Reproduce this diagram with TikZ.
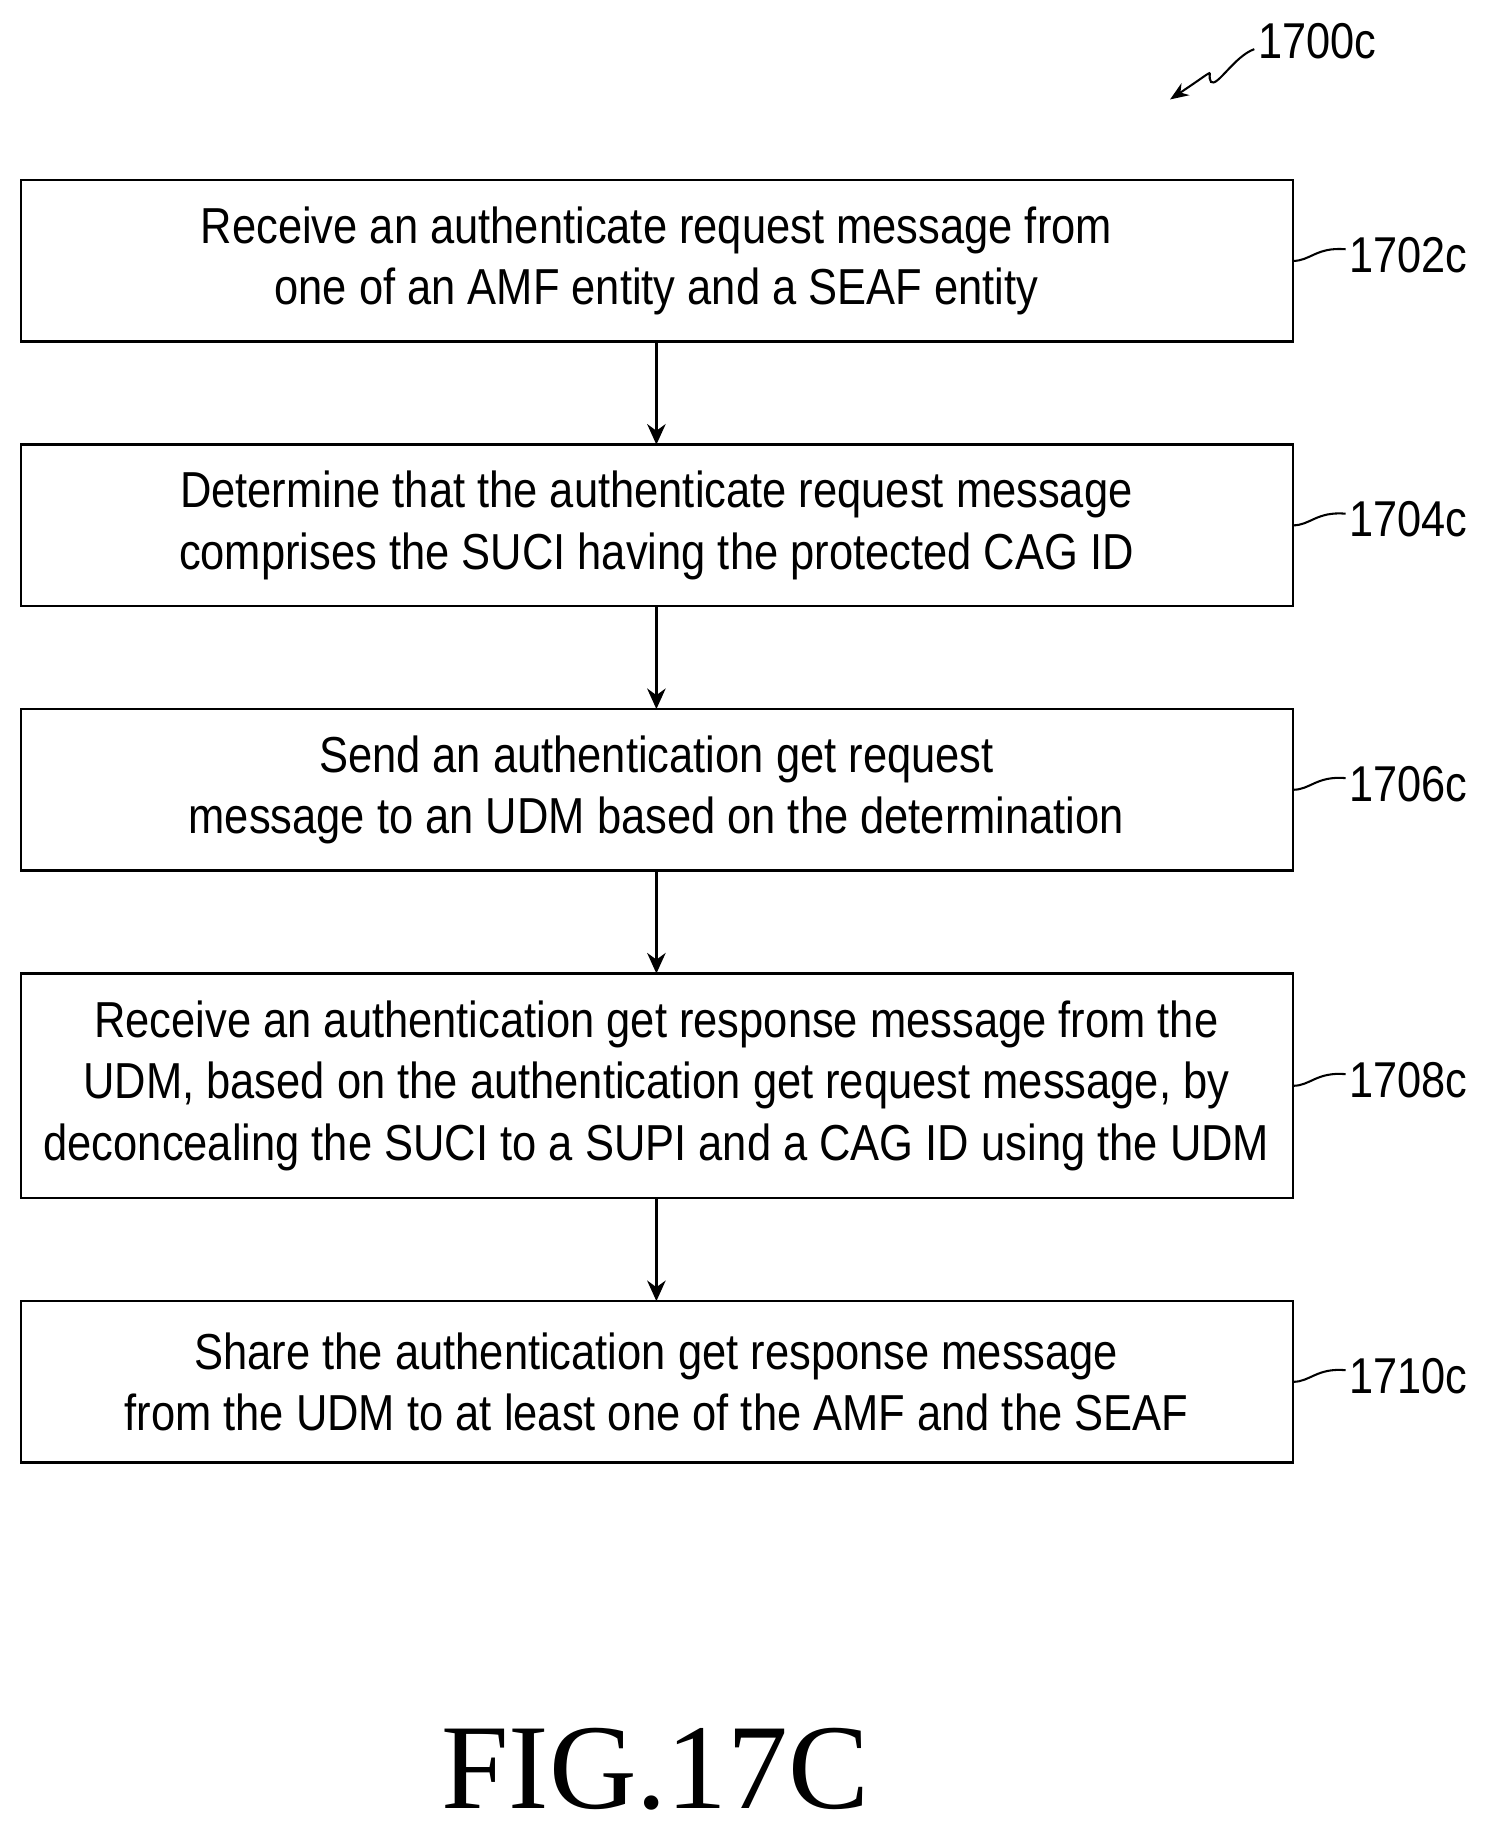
\documentclass[tikz,border=0pt]{standalone}
\usepackage{fontspec}
\setmainfont{Liberation Sans}[FakeStretch=0.86]
\newfontfamily\figfont{Liberation Serif}
\usetikzlibrary{arrows.meta}
\begin{document}
\begin{tikzpicture}[x=0.02cm,y=-0.02cm,
 box/.style={draw,line width=1.2pt,inner sep=0pt,font=\fontsize{24.6}{30}\selectfont,align=center},
 arr/.style={line width=1.2pt,-{Stealth[length=10pt,width=9pt]}},
 lab/.style={font=\fontsize{24.5}{26}\selectfont,anchor=west,inner sep=0pt}]
\useasboundingbox (0,0) rectangle (1276,1576);
\def\bx#1#2#3#4#5{%
 \draw[line width=1.2pt] (18,#2) rectangle (1105,#3);
 \node[box,draw=none] (#1) at (561,{(#2+#3)/2}) {#4};
 \coordinate (#1t) at (561,#2); \coordinate (#1b) at (561,#3);
 \node[lab] (#1l) at (1153,{(#2+#3)/2-5}) {#5};
 \draw[line width=1pt] (1105,{(#2+#3)/2}) .. controls (1120,{(#2+#3)/2}) and (1125,{(#2+#3)/2-12}) .. (1150,{(#2+#3)/2-10});}
\bx{a}{154}{292}{Receive an authenticate request message from\\one of an AMF entity and a SEAF entity}{1702c}
\bx{b}{380}{518}{Determine that the authenticate request message\\comprises the SUCI having the protected CAG ID}{1704c}
\bx{c}{606}{744}{Send an authentication get request\\message to an UDM based on the determination}{1706c}
\bx{d}{832}{1024}{Receive an authentication get response message from the\\UDM, based on the authentication get request message, by\\deconcealing the SUCI to a SUPI and a CAG ID using the UDM}{1708c}
\bx{e}{1112}{1250}{Share the authentication get response message\\from the UDM to at least one of the AMF and the SEAF}{1710c}
\draw[arr] (ab) -- (bt);
\draw[arr] (bb) -- (ct);
\draw[arr] (cb) -- (dt);
\draw[arr] (db) -- (et);
\node[lab] (top) at (1075,35) {1700c};
\coordinate (z) at (1072,42);
\draw[line width=1pt,-{Stealth[length=9pt,width=7pt]}] (z) .. controls (1055,48) and (1040,75) .. (1035,70) .. controls (1030,62) and (1045,55) .. (1000,85);
\node[font=\figfont\fontsize{59}{59}\selectfont] (fig) at (560,1512) {FIG.17C};
\end{tikzpicture}
\end{document}
